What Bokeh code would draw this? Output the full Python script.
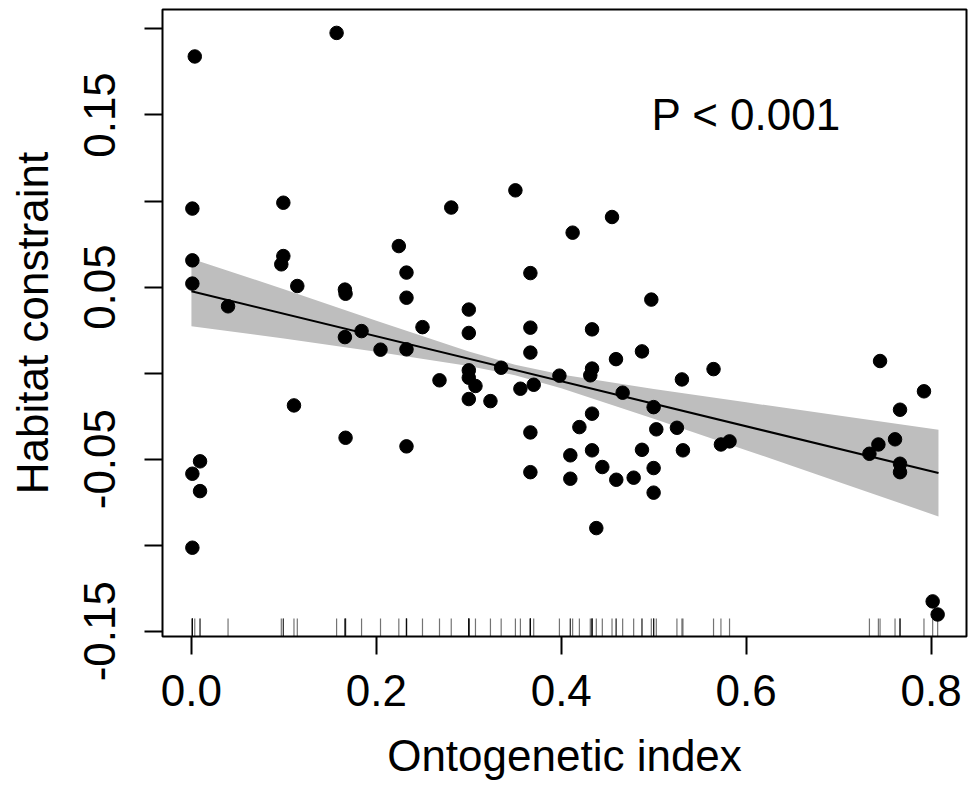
from bokeh.plotting import figure
from bokeh.models import Range1d, FixedTicker, PrintfTickFormatter
from bokeh.core.properties import value
from bokeh.embed import file_html
from bokeh.resources import INLINE

# ---- data ----
onto_x = [0.0036, 0.001, 0.0994, 0.157, 0.2243, 0.281, 0.3504, 0.4123, 0.4549,
          0.001, 0.001, 0.0396, 0.0994, 0.0972, 0.1145, 0.166, 0.1667, 0.166,
          0.184, 0.2045, 0.2326, 0.2326, 0.2326, 0.2499, 0.2683, 0.1109, 0.1667,
          0.2326, 0.0093, 0.001, 0.0093, 0.001, 0.3666, 0.30, 0.30, 0.3666,
          0.3666, 0.4333, 0.4974, 0.4873, 0.4592, 0.5647, 0.5305, 0.30, 0.30,
          0.3072, 0.30, 0.3234, 0.335, 0.3558, 0.3702, 0.398, 0.4333, 0.4314,
          0.4664, 0.4999, 0.4333, 0.3666, 0.4196, 0.5028, 0.5251, 0.4098, 0.4333,
          0.4873, 0.5316, 0.5727, 0.582, 0.3666, 0.4098, 0.4444, 0.4595, 0.4783,
          0.4999, 0.4999, 0.4379, 0.7448, 0.7923, 0.7664, 0.761, 0.743, 0.7333,
          0.7664, 0.7664, 0.8017, 0.8071]
habitat_y = [0.184, 0.0956, 0.099, 0.1977, 0.0738, 0.0962, 0.1062, 0.0816, 0.0907,
             0.0655, 0.052, 0.0388, 0.068, 0.0632, 0.0506, 0.0485, 0.0461, 0.0209,
             0.0244, 0.0136, 0.0584, 0.0438, 0.0138, 0.0267, -0.0042, -0.0188, -0.0376,
             -0.0426, -0.0513, -0.0585, -0.0686, -0.1015, 0.0581, 0.0369, 0.0233, 0.0264,
             0.0119, 0.0254, 0.0427, 0.0126, 0.0081, 0.0023, -0.0037, 0.0016, -0.0027,
             -0.0075, -0.0151, -0.0163, 0.0031, -0.0091, -0.0068, -0.0015, 0.0026, -0.0013,
             -0.0114, -0.0198, -0.0236, -0.0345, -0.0314, -0.0327, -0.0318, -0.0478, -0.0449,
             -0.0446, -0.0449, -0.0415, -0.0397, -0.0576, -0.0614, -0.0546, -0.062, -0.0608,
             -0.0552, -0.0695, -0.0901, 0.007, -0.0106, -0.0213, -0.0385, -0.0415, -0.0469,
             -0.0527, -0.0576, -0.1327, -0.1403]

fit_x = [0.0, 0.808]
fit_y = [0.0475, -0.0581]

band_x = [0.0, 0.1, 0.2, 0.3, 0.35, 0.4, 0.5, 0.6, 0.7, 0.808]
band_up = [0.0665, 0.0487, 0.0304, 0.0125, 0.0048, -0.0009, -0.0093, -0.0170, -0.0247, -0.0329]
band_lo = [0.0272, 0.0201, 0.0124, 0.0041, -0.0012, -0.0088, -0.0265, -0.0448, -0.0633, -0.0833]

x_ticks = [0.0, 0.2, 0.4, 0.6, 0.8]
y_ticks = [-0.15, -0.10, -0.05, 0.0, 0.05, 0.10, 0.15, 0.20]
y_tick_labels = {-0.15: "-0.15", -0.10: "", -0.05: "-0.05", 0.0: "", 0.05: "0.05",
                 0.10: "", 0.15: "0.15", 0.20: ""}

p_text = ["P < 0.001"]
p_text_x = [0.6]
p_text_y = [0.15]

# ---- layout ----
X_LO, X_HI = -0.0313, 0.8383
Y_LO, Y_HI = -0.1531, 0.2113
W, H = 969, 787
MB_L, MB_R, MB_T, MB_B = 162, 3, 9, 151
FONT = "Liberation Sans"
FS = "44px"

p = figure(width=W, height=H, x_range=Range1d(X_LO, X_HI), y_range=Range1d(Y_LO, Y_HI),
           output_backend="svg", toolbar_location=None,
           min_border_left=MB_L, min_border_right=MB_R, min_border_top=MB_T,
           min_border_bottom=MB_B)
p.xgrid.visible = False
p.ygrid.visible = False
p.outline_line_color = "black"
p.outline_line_width = 2
p.background_fill_color = "white"
p.border_fill_color = "white"

# confidence band and fit
p.varea(x=band_x, y1=band_lo, y2=band_up, fill_color="#bebebe")
p.line(x=fit_x, y=fit_y, line_color="black", line_width=2)

# points
p.scatter(x=onto_x, y=habitat_y, size=13.5, fill_color="black", line_color="black",
          marker="circle")

# rug along bottom
frame_h = H - MB_T - MB_B
rug_len = 18 * (Y_HI - Y_LO) / frame_h
p.segment(x0=onto_x, y0=[Y_LO] * len(onto_x), x1=onto_x,
          y1=[Y_LO + rug_len] * len(onto_x), line_color="black", line_alpha=0.55,
          line_width=1.2)

# annotation text
p.text(x=p_text_x, y=p_text_y, text=p_text, text_font=value(FONT), text_font_size=FS,
       text_align="center", text_baseline="middle", text_color="black")

# axes
for ax in (p.xaxis[0], p.yaxis[0]):
    ax.axis_line_color = None
    ax.major_tick_line_color = "black"
    ax.major_tick_line_width = 2
    ax.major_tick_out = 18
    ax.major_tick_in = 0
    ax.minor_tick_line_color = None
    ax.major_label_text_font = FONT
    ax.major_label_text_font_size = FS
    ax.major_label_text_color = "black"
    ax.axis_label_text_font = FONT
    ax.axis_label_text_font_size = FS
    ax.axis_label_text_font_style = "normal"
    ax.axis_label_text_color = "black"

p.xaxis.ticker = FixedTicker(ticks=x_ticks)
p.xaxis.formatter = PrintfTickFormatter(format="%.1f")
p.xaxis.axis_label = "Ontogenetic index"
p.xaxis.major_label_standoff = 20
p.xaxis.axis_label_standoff = 22

p.yaxis.ticker = FixedTicker(ticks=y_ticks)
p.yaxis.major_label_overrides = y_tick_labels
p.yaxis.major_label_orientation = "vertical"
p.yaxis.axis_label = "Habitat constraint"
p.yaxis.major_label_standoff = 29
p.yaxis.axis_label_standoff = 25

open("out.html", "w").write(file_html(p, INLINE))
